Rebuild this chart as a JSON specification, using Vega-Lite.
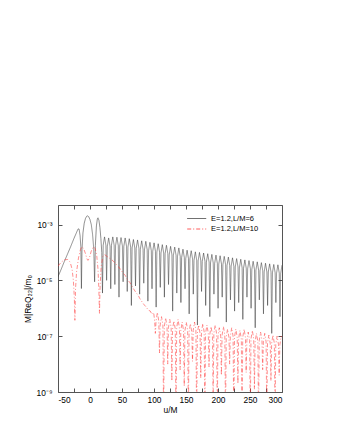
{
"$schema": "https://vega.github.io/schema/vega-lite/v6.json",
"autosize": {"type": "none"},
"width": 224, "height": 187,
"padding": {"left": 58, "top": 205, "right": 60, "bottom": 51},
"config": {"font": "Liberation Sans", "view": {"stroke": "#555", "strokeWidth": 1},
 "axis": {"domain": false, "grid": false, "tickColor": "#555", "tickSize": -4, "labelFontSize": 8.4, "titleFontSize": 8.4, "titleFontWeight": "normal", "labelColor": "#000", "titleColor": "#000", "titlePadding": 2},
 "axisX": {"labelPadding": 7.5},
 "axisY": {"labelPadding": 10, "titlePadding": 4}},
"data": {"values": [
{"s":"E=1.2,L/M=6","u":-50,"v":1.35e-5},{"s":"E=1.2,L/M=6","u":-45,"v":2.5e-5},{"s":"E=1.2,L/M=6","u":-40,"v":4.8e-5},{"s":"E=1.2,L/M=6","u":-35,"v":8.9e-5},{"s":"E=1.2,L/M=6","u":-30,"v":1.66e-4},{"s":"E=1.2,L/M=6","u":-25,"v":3.2e-4},{"s":"E=1.2,L/M=6","u":-22,"v":4.6e-4},{"s":"E=1.2,L/M=6","u":-20,"v":5.9e-4},{"s":"E=1.2,L/M=6","u":-18.5,"v":7.0e-4},{"s":"E=1.2,L/M=6","u":-17,"v":6.8e-4},{"s":"E=1.2,L/M=6","u":-15.5,"v":4.0e-4},{"s":"E=1.2,L/M=6","u":-14.3,"v":1.6e-4},{"s":"E=1.2,L/M=6","u":-13.4,"v":5.1e-6},{"s":"E=1.2,L/M=6","u":-12.5,"v":1.26e-4},{"s":"E=1.2,L/M=6","u":-11,"v":5.0e-4},{"s":"E=1.2,L/M=6","u":-9,"v":1.12e-3},{"s":"E=1.2,L/M=6","u":-7,"v":1.66e-3},{"s":"E=1.2,L/M=6","u":-5,"v":2.0e-3},{"s":"E=1.2,L/M=6","u":-3.8,"v":2.04e-3},{"s":"E=1.2,L/M=6","u":-2,"v":1.9e-3},{"s":"E=1.2,L/M=6","u":0,"v":1.5e-3},{"s":"E=1.2,L/M=6","u":2,"v":1.0e-3},{"s":"E=1.2,L/M=6","u":4,"v":4.5e-4},{"s":"E=1.2,L/M=6","u":5.8,"v":1.4e-4},{"s":"E=1.2,L/M=6","u":7.2,"v":8.9e-6},{"s":"E=1.2,L/M=6","u":8.4,"v":1.8e-4},{"s":"E=1.2,L/M=6","u":10,"v":8.9e-4},{"s":"E=1.2,L/M=6","u":11.5,"v":1.6e-3},{"s":"E=1.2,L/M=6","u":12.5,"v":1.74e-3},{"s":"E=1.2,L/M=6","u":14,"v":1.4e-3},{"s":"E=1.2,L/M=6","u":15.5,"v":7.9e-4},{"s":"E=1.2,L/M=6","u":17,"v":3.2e-4},{"s":"E=1.2,L/M=6","u":18.4,"v":1.0e-4},
{"s":"E=1.2,L/M=6","u":19.5,"v":3.5e-6},{"s":"E=1.2,L/M=6","u":20.6,"v":1.8e-4},{"s":"E=1.2,L/M=6","u":22.7,"v":3.6e-4},{"s":"E=1.2,L/M=6","u":24.85,"v":1.8e-4},
{"s":"E=1.2,L/M=6","u":25.95,"v":1.0e-5},{"s":"E=1.2,L/M=6","u":27.05,"v":1.65e-4},{"s":"E=1.2,L/M=6","u":29.15,"v":3.3e-4},{"s":"E=1.2,L/M=6","u":31.3,"v":1.65e-4},
{"s":"E=1.2,L/M=6","u":32.4,"v":5.0e-6},{"s":"E=1.2,L/M=6","u":33.5,"v":1.8e-4},{"s":"E=1.2,L/M=6","u":35.6,"v":3.6e-4},{"s":"E=1.2,L/M=6","u":37.75,"v":1.8e-4},
{"s":"E=1.2,L/M=6","u":38.85,"v":7.1e-6},{"s":"E=1.2,L/M=6","u":39.95,"v":1.75e-4},{"s":"E=1.2,L/M=6","u":42.05,"v":3.5e-4},{"s":"E=1.2,L/M=6","u":44.2,"v":1.75e-4},
{"s":"E=1.2,L/M=6","u":45.3,"v":2.5e-6},{"s":"E=1.2,L/M=6","u":46.4,"v":1.7e-4},{"s":"E=1.2,L/M=6","u":48.5,"v":3.4e-4},{"s":"E=1.2,L/M=6","u":50.65,"v":1.7e-4},
{"s":"E=1.2,L/M=6","u":51.75,"v":8.9e-6},{"s":"E=1.2,L/M=6","u":52.85,"v":1.65e-4},{"s":"E=1.2,L/M=6","u":54.95,"v":3.3e-4},{"s":"E=1.2,L/M=6","u":57.1,"v":1.65e-4},
{"s":"E=1.2,L/M=6","u":58.2,"v":4.0e-6},{"s":"E=1.2,L/M=6","u":59.3,"v":1.55e-4},{"s":"E=1.2,L/M=6","u":61.4,"v":3.1e-4},{"s":"E=1.2,L/M=6","u":63.55,"v":1.55e-4},
{"s":"E=1.2,L/M=6","u":64.65,"v":1.26e-6},{"s":"E=1.2,L/M=6","u":65.75,"v":1.45e-4},{"s":"E=1.2,L/M=6","u":67.85,"v":2.9e-4},{"s":"E=1.2,L/M=6","u":70.0,"v":1.45e-4},
{"s":"E=1.2,L/M=6","u":71.1,"v":6.3e-6},{"s":"E=1.2,L/M=6","u":72.2,"v":1.4e-4},{"s":"E=1.2,L/M=6","u":74.3,"v":2.8e-4},{"s":"E=1.2,L/M=6","u":76.45,"v":1.4e-4},
{"s":"E=1.2,L/M=6","u":77.55,"v":3.2e-6},{"s":"E=1.2,L/M=6","u":78.65,"v":1.3e-4},{"s":"E=1.2,L/M=6","u":80.75,"v":2.6e-4},{"s":"E=1.2,L/M=6","u":82.9,"v":1.3e-4},
{"s":"E=1.2,L/M=6","u":84.0,"v":7.9e-6},{"s":"E=1.2,L/M=6","u":85.1,"v":1.25e-4},{"s":"E=1.2,L/M=6","u":87.2,"v":2.5e-4},{"s":"E=1.2,L/M=6","u":89.35,"v":1.25e-4},
{"s":"E=1.2,L/M=6","u":90.45,"v":1.8e-6},{"s":"E=1.2,L/M=6","u":91.55,"v":1.15e-4},{"s":"E=1.2,L/M=6","u":93.65,"v":2.3e-4},{"s":"E=1.2,L/M=6","u":95.8,"v":1.15e-4},
{"s":"E=1.2,L/M=6","u":96.9,"v":5.0e-6},{"s":"E=1.2,L/M=6","u":98.0,"v":1.1e-4},{"s":"E=1.2,L/M=6","u":100.1,"v":2.2e-4},{"s":"E=1.2,L/M=6","u":102.25,"v":1.1e-4},
{"s":"E=1.2,L/M=6","u":103.35,"v":1.1e-6},{"s":"E=1.2,L/M=6","u":104.45,"v":1.02e-4},{"s":"E=1.2,L/M=6","u":106.55,"v":2.05e-4},{"s":"E=1.2,L/M=6","u":108.7,"v":1.02e-4},
{"s":"E=1.2,L/M=6","u":109.8,"v":5.6e-6},{"s":"E=1.2,L/M=6","u":110.9,"v":9.5e-5},{"s":"E=1.2,L/M=6","u":113.0,"v":1.9e-4},{"s":"E=1.2,L/M=6","u":115.15,"v":9.5e-5},
{"s":"E=1.2,L/M=6","u":116.25,"v":2.5e-6},{"s":"E=1.2,L/M=6","u":117.35,"v":9.0e-5},{"s":"E=1.2,L/M=6","u":119.45,"v":1.8e-4},{"s":"E=1.2,L/M=6","u":121.6,"v":9.0e-5},
{"s":"E=1.2,L/M=6","u":122.7,"v":7.1e-6},{"s":"E=1.2,L/M=6","u":123.8,"v":8.2e-5},{"s":"E=1.2,L/M=6","u":125.9,"v":1.65e-4},{"s":"E=1.2,L/M=6","u":128.05,"v":8.2e-5},
{"s":"E=1.2,L/M=6","u":129.15,"v":7.9e-7},{"s":"E=1.2,L/M=6","u":130.25,"v":7.8e-5},{"s":"E=1.2,L/M=6","u":132.35,"v":1.55e-4},{"s":"E=1.2,L/M=6","u":134.5,"v":7.8e-5},
{"s":"E=1.2,L/M=6","u":135.6,"v":3.5e-6},{"s":"E=1.2,L/M=6","u":136.7,"v":7.2e-5},{"s":"E=1.2,L/M=6","u":138.8,"v":1.45e-4},{"s":"E=1.2,L/M=6","u":140.95,"v":7.2e-5},
{"s":"E=1.2,L/M=6","u":142.05,"v":1.6e-6},{"s":"E=1.2,L/M=6","u":143.15,"v":6.5e-5},{"s":"E=1.2,L/M=6","u":145.25,"v":1.3e-4},{"s":"E=1.2,L/M=6","u":147.4,"v":6.5e-5},
{"s":"E=1.2,L/M=6","u":148.5,"v":5.0e-6},{"s":"E=1.2,L/M=6","u":149.6,"v":6.0e-5},{"s":"E=1.2,L/M=6","u":151.7,"v":1.2e-4},{"s":"E=1.2,L/M=6","u":153.85,"v":6.0e-5},
{"s":"E=1.2,L/M=6","u":154.95,"v":6.3e-7},{"s":"E=1.2,L/M=6","u":156.05,"v":5.8e-5},{"s":"E=1.2,L/M=6","u":158.15,"v":1.15e-4},{"s":"E=1.2,L/M=6","u":160.3,"v":5.8e-5},
{"s":"E=1.2,L/M=6","u":161.4,"v":3.2e-6},{"s":"E=1.2,L/M=6","u":162.5,"v":5.2e-5},{"s":"E=1.2,L/M=6","u":164.6,"v":1.05e-4},{"s":"E=1.2,L/M=6","u":166.75,"v":5.2e-5},
{"s":"E=1.2,L/M=6","u":167.85,"v":2.5e-7},{"s":"E=1.2,L/M=6","u":168.95,"v":5.0e-5},{"s":"E=1.2,L/M=6","u":171.05,"v":1.0e-4},{"s":"E=1.2,L/M=6","u":173.2,"v":5.0e-5},
{"s":"E=1.2,L/M=6","u":174.3,"v":4.0e-6},{"s":"E=1.2,L/M=6","u":175.4,"v":4.8e-5},{"s":"E=1.2,L/M=6","u":177.5,"v":9.5e-5},{"s":"E=1.2,L/M=6","u":179.65,"v":4.8e-5},
{"s":"E=1.2,L/M=6","u":180.75,"v":1.26e-6},{"s":"E=1.2,L/M=6","u":181.85,"v":4.5e-5},{"s":"E=1.2,L/M=6","u":183.95,"v":9.0e-5},{"s":"E=1.2,L/M=6","u":186.1,"v":4.5e-5},
{"s":"E=1.2,L/M=6","u":187.2,"v":5.0e-7},{"s":"E=1.2,L/M=6","u":188.3,"v":4.2e-5},{"s":"E=1.2,L/M=6","u":190.4,"v":8.5e-5},{"s":"E=1.2,L/M=6","u":192.55,"v":4.2e-5},
{"s":"E=1.2,L/M=6","u":193.65,"v":3.2e-6},{"s":"E=1.2,L/M=6","u":194.75,"v":4.0e-5},{"s":"E=1.2,L/M=6","u":196.85,"v":8.0e-5},{"s":"E=1.2,L/M=6","u":199.0,"v":4.0e-5},
{"s":"E=1.2,L/M=6","u":200.1,"v":1.0e-6},{"s":"E=1.2,L/M=6","u":201.2,"v":3.8e-5},{"s":"E=1.2,L/M=6","u":203.3,"v":7.6e-5},{"s":"E=1.2,L/M=6","u":205.45,"v":3.8e-5},
{"s":"E=1.2,L/M=6","u":206.55,"v":2.5e-6},{"s":"E=1.2,L/M=6","u":207.65,"v":3.6e-5},{"s":"E=1.2,L/M=6","u":209.75,"v":7.2e-5},{"s":"E=1.2,L/M=6","u":211.9,"v":3.6e-5},
{"s":"E=1.2,L/M=6","u":213.0,"v":3.2e-7},{"s":"E=1.2,L/M=6","u":214.1,"v":3.4e-5},{"s":"E=1.2,L/M=6","u":216.2,"v":6.8e-5},{"s":"E=1.2,L/M=6","u":218.35,"v":3.4e-5},
{"s":"E=1.2,L/M=6","u":219.45,"v":2.0e-6},{"s":"E=1.2,L/M=6","u":220.55,"v":3.2e-5},{"s":"E=1.2,L/M=6","u":222.65,"v":6.4e-5},{"s":"E=1.2,L/M=6","u":224.8,"v":3.2e-5},
{"s":"E=1.2,L/M=6","u":225.9,"v":7.9e-7},{"s":"E=1.2,L/M=6","u":227.0,"v":3.0e-5},{"s":"E=1.2,L/M=6","u":229.1,"v":6.0e-5},{"s":"E=1.2,L/M=6","u":231.25,"v":3.0e-5},
{"s":"E=1.2,L/M=6","u":232.35,"v":1.6e-6},{"s":"E=1.2,L/M=6","u":233.45,"v":2.8e-5},{"s":"E=1.2,L/M=6","u":235.55,"v":5.7e-5},{"s":"E=1.2,L/M=6","u":237.7,"v":2.8e-5},
{"s":"E=1.2,L/M=6","u":238.8,"v":4.0e-7},{"s":"E=1.2,L/M=6","u":239.9,"v":2.7e-5},{"s":"E=1.2,L/M=6","u":242.0,"v":5.4e-5},{"s":"E=1.2,L/M=6","u":244.15,"v":2.7e-5},
{"s":"E=1.2,L/M=6","u":245.25,"v":2.5e-6},{"s":"E=1.2,L/M=6","u":246.35,"v":2.6e-5},{"s":"E=1.2,L/M=6","u":248.45,"v":5.1e-5},{"s":"E=1.2,L/M=6","u":250.6,"v":2.6e-5},
{"s":"E=1.2,L/M=6","u":251.7,"v":1.0e-6},{"s":"E=1.2,L/M=6","u":252.8,"v":2.4e-5},{"s":"E=1.2,L/M=6","u":254.9,"v":4.8e-5},{"s":"E=1.2,L/M=6","u":257.05,"v":2.4e-5},
{"s":"E=1.2,L/M=6","u":258.15,"v":2.0e-7},{"s":"E=1.2,L/M=6","u":259.25,"v":2.3e-5},{"s":"E=1.2,L/M=6","u":261.35,"v":4.6e-5},{"s":"E=1.2,L/M=6","u":263.5,"v":2.3e-5},
{"s":"E=1.2,L/M=6","u":264.6,"v":2.0e-6},{"s":"E=1.2,L/M=6","u":265.7,"v":2.2e-5},{"s":"E=1.2,L/M=6","u":267.8,"v":4.3e-5},{"s":"E=1.2,L/M=6","u":269.95,"v":2.2e-5},
{"s":"E=1.2,L/M=6","u":271.05,"v":6.3e-7},{"s":"E=1.2,L/M=6","u":272.15,"v":2.0e-5},{"s":"E=1.2,L/M=6","u":274.25,"v":4.1e-5},{"s":"E=1.2,L/M=6","u":276.4,"v":2.0e-5},
{"s":"E=1.2,L/M=6","u":277.5,"v":1.26e-6},{"s":"E=1.2,L/M=6","u":278.6,"v":2.0e-5},{"s":"E=1.2,L/M=6","u":280.7,"v":3.9e-5},{"s":"E=1.2,L/M=6","u":282.85,"v":2.0e-5},
{"s":"E=1.2,L/M=6","u":283.95,"v":1.26e-7},{"s":"E=1.2,L/M=6","u":285.05,"v":1.85e-5},{"s":"E=1.2,L/M=6","u":287.15,"v":3.7e-5},{"s":"E=1.2,L/M=6","u":289.3,"v":1.85e-5},
{"s":"E=1.2,L/M=6","u":290.4,"v":1.6e-6},{"s":"E=1.2,L/M=6","u":291.5,"v":1.8e-5},{"s":"E=1.2,L/M=6","u":293.6,"v":3.6e-5},{"s":"E=1.2,L/M=6","u":295.75,"v":1.8e-5},
{"s":"E=1.2,L/M=6","u":296.85,"v":5.0e-7},{"s":"E=1.2,L/M=6","u":297.95,"v":1.75e-5},{"s":"E=1.2,L/M=6","u":300,"v":3.5e-5},
{"s":"E=1.2,L/M=10","u":-50,"v":3.2e-5},{"s":"E=1.2,L/M=10","u":-45,"v":4.5e-5},{"s":"E=1.2,L/M=10","u":-40,"v":5.4e-5},{"s":"E=1.2,L/M=10","u":-35,"v":5.6e-5},{"s":"E=1.2,L/M=10","u":-31,"v":4.5e-5},{"s":"E=1.2,L/M=10","u":-28,"v":2.5e-5},{"s":"E=1.2,L/M=10","u":-26,"v":1.0e-5},{"s":"E=1.2,L/M=10","u":-24.5,"v":2.5e-6},{"s":"E=1.2,L/M=10","u":-23.6,"v":3.7e-7},{"s":"E=1.2,L/M=10","u":-22.6,"v":5.0e-6},{"s":"E=1.2,L/M=10","u":-21,"v":2.0e-5},{"s":"E=1.2,L/M=10","u":-18,"v":6.3e-5},{"s":"E=1.2,L/M=10","u":-15,"v":1.26e-4},{"s":"E=1.2,L/M=10","u":-12.7,"v":1.6e-4},{"s":"E=1.2,L/M=10","u":-10,"v":1.4e-4},{"s":"E=1.2,L/M=10","u":-7,"v":8.9e-5},{"s":"E=1.2,L/M=10","u":-4.5,"v":5.6e-5},{"s":"E=1.2,L/M=10","u":-2.9,"v":5.2e-5},{"s":"E=1.2,L/M=10","u":-1,"v":6.3e-5},{"s":"E=1.2,L/M=10","u":2,"v":1.12e-4},{"s":"E=1.2,L/M=10","u":5.5,"v":1.6e-4},{"s":"E=1.2,L/M=10","u":8,"v":1.4e-4},{"s":"E=1.2,L/M=10","u":10.5,"v":7.9e-5},{"s":"E=1.2,L/M=10","u":12.5,"v":2.5e-5},{"s":"E=1.2,L/M=10","u":13.8,"v":5.0e-6},{"s":"E=1.2,L/M=10","u":14.8,"v":6.6e-7},{"s":"E=1.2,L/M=10","u":15.8,"v":6.3e-6},{"s":"E=1.2,L/M=10","u":17.5,"v":3.2e-5},{"s":"E=1.2,L/M=10","u":20,"v":7.1e-5},{"s":"E=1.2,L/M=10","u":23,"v":8.3e-5},{"s":"E=1.2,L/M=10","u":27,"v":7.1e-5},{"s":"E=1.2,L/M=10","u":30,"v":6.3e-5},{"s":"E=1.2,L/M=10","u":33.5,"v":5.6e-5},{"s":"E=1.2,L/M=10","u":36,"v":5.0e-5},{"s":"E=1.2,L/M=10","u":39,"v":4.2e-5},{"s":"E=1.2,L/M=10","u":42,"v":3.5e-5},{"s":"E=1.2,L/M=10","u":45,"v":3.0e-5},{"s":"E=1.2,L/M=10","u":48,"v":2.4e-5},{"s":"E=1.2,L/M=10","u":52,"v":1.8e-5},{"s":"E=1.2,L/M=10","u":55,"v":1.5e-5},{"s":"E=1.2,L/M=10","u":58,"v":1.1e-5},{"s":"E=1.2,L/M=10","u":62,"v":8.5e-6},{"s":"E=1.2,L/M=10","u":65,"v":6.5e-6},{"s":"E=1.2,L/M=10","u":68,"v":5.0e-6},{"s":"E=1.2,L/M=10","u":72,"v":3.6e-6},{"s":"E=1.2,L/M=10","u":75,"v":3.0e-6},{"s":"E=1.2,L/M=10","u":78,"v":2.2e-6},{"s":"E=1.2,L/M=10","u":82,"v":1.6e-6},{"s":"E=1.2,L/M=10","u":85,"v":1.3e-6},{"s":"E=1.2,L/M=10","u":88,"v":1.1e-6},{"s":"E=1.2,L/M=10","u":91,"v":8.5e-7},{"s":"E=1.2,L/M=10","u":94,"v":8.0e-7},{"s":"E=1.2,L/M=10","u":97,"v":6.0e-7},{"s":"E=1.2,L/M=10","u":99.5,"v":7.0e-7},{"s":"E=1.2,L/M=10","u":101,"v":3.5e-7},
{"s":"E=1.2,L/M=10","u":102.1,"v":1.26e-7},{"s":"E=1.2,L/M=10","u":103.2,"v":3.5e-7},{"s":"E=1.2,L/M=10","u":105.3,"v":7.1e-7},{"s":"E=1.2,L/M=10","u":107.45,"v":3.5e-7},
{"s":"E=1.2,L/M=10","u":108.55,"v":2.5e-8},{"s":"E=1.2,L/M=10","u":109.65,"v":2.5e-7},{"s":"E=1.2,L/M=10","u":111.75,"v":5.0e-7},{"s":"E=1.2,L/M=10","u":113.9,"v":2.5e-7},
{"s":"E=1.2,L/M=10","u":115.0,"v":1e-10},{"s":"E=1.2,L/M=10","u":116.1,"v":2.2e-7},{"s":"E=1.2,L/M=10","u":118.2,"v":4.5e-7},{"s":"E=1.2,L/M=10","u":120.35,"v":2.2e-7},
{"s":"E=1.2,L/M=10","u":121.45,"v":1.0e-8},{"s":"E=1.2,L/M=10","u":122.55,"v":2.0e-7},{"s":"E=1.2,L/M=10","u":124.65,"v":4.0e-7},{"s":"E=1.2,L/M=10","u":126.8,"v":2.0e-7},
{"s":"E=1.2,L/M=10","u":127.9,"v":2.5e-9},{"s":"E=1.2,L/M=10","u":129.0,"v":1.8e-7},{"s":"E=1.2,L/M=10","u":131.1,"v":3.5e-7},{"s":"E=1.2,L/M=10","u":133.25,"v":1.8e-7},
{"s":"E=1.2,L/M=10","u":134.35,"v":1e-10},{"s":"E=1.2,L/M=10","u":135.45,"v":2.0e-7},{"s":"E=1.2,L/M=10","u":137.55,"v":4.0e-7},{"s":"E=1.2,L/M=10","u":139.7,"v":2.0e-7},
{"s":"E=1.2,L/M=10","u":140.8,"v":6.3e-9},{"s":"E=1.2,L/M=10","u":141.9,"v":1.6e-7},{"s":"E=1.2,L/M=10","u":144.0,"v":3.2e-7},{"s":"E=1.2,L/M=10","u":146.15,"v":1.6e-7},
{"s":"E=1.2,L/M=10","u":147.25,"v":1.6e-9},{"s":"E=1.2,L/M=10","u":148.35,"v":1.6e-7},{"s":"E=1.2,L/M=10","u":150.45,"v":3.2e-7},{"s":"E=1.2,L/M=10","u":152.6,"v":1.6e-7},
{"s":"E=1.2,L/M=10","u":153.7,"v":1e-10},{"s":"E=1.2,L/M=10","u":154.8,"v":1.4e-7},{"s":"E=1.2,L/M=10","u":156.9,"v":2.8e-7},{"s":"E=1.2,L/M=10","u":159.05,"v":1.4e-7},
{"s":"E=1.2,L/M=10","u":160.15,"v":1.26e-8},{"s":"E=1.2,L/M=10","u":161.25,"v":1.6e-7},{"s":"E=1.2,L/M=10","u":163.35,"v":3.2e-7},{"s":"E=1.2,L/M=10","u":165.5,"v":1.6e-7},
{"s":"E=1.2,L/M=10","u":166.6,"v":1e-10},{"s":"E=1.2,L/M=10","u":167.7,"v":1.25e-7},{"s":"E=1.2,L/M=10","u":169.8,"v":2.5e-7},{"s":"E=1.2,L/M=10","u":171.95,"v":1.25e-7},
{"s":"E=1.2,L/M=10","u":173.05,"v":3.2e-9},{"s":"E=1.2,L/M=10","u":174.15,"v":1.4e-7},{"s":"E=1.2,L/M=10","u":176.25,"v":2.8e-7},{"s":"E=1.2,L/M=10","u":178.4,"v":1.4e-7},
{"s":"E=1.2,L/M=10","u":179.5,"v":1e-10},{"s":"E=1.2,L/M=10","u":180.6,"v":1.25e-7},{"s":"E=1.2,L/M=10","u":182.7,"v":2.5e-7},{"s":"E=1.2,L/M=10","u":184.85,"v":1.25e-7},
{"s":"E=1.2,L/M=10","u":185.95,"v":7.9e-9},{"s":"E=1.2,L/M=10","u":187.05,"v":1.1e-7},{"s":"E=1.2,L/M=10","u":189.15,"v":2.2e-7},{"s":"E=1.2,L/M=10","u":191.3,"v":1.1e-7},
{"s":"E=1.2,L/M=10","u":192.4,"v":5e-10},{"s":"E=1.2,L/M=10","u":193.5,"v":1.25e-7},{"s":"E=1.2,L/M=10","u":195.6,"v":2.5e-7},{"s":"E=1.2,L/M=10","u":197.75,"v":1.25e-7},
{"s":"E=1.2,L/M=10","u":198.85,"v":1e-10},{"s":"E=1.2,L/M=10","u":199.95,"v":1.0e-7},{"s":"E=1.2,L/M=10","u":202.05,"v":2.0e-7},{"s":"E=1.2,L/M=10","u":204.2,"v":1.0e-7},
{"s":"E=1.2,L/M=10","u":205.3,"v":4.0e-9},{"s":"E=1.2,L/M=10","u":206.4,"v":1.1e-7},{"s":"E=1.2,L/M=10","u":208.5,"v":2.2e-7},{"s":"E=1.2,L/M=10","u":210.65,"v":1.1e-7},
{"s":"E=1.2,L/M=10","u":211.75,"v":1e-10},{"s":"E=1.2,L/M=10","u":212.85,"v":9.0e-8},{"s":"E=1.2,L/M=10","u":214.95,"v":1.8e-7},{"s":"E=1.2,L/M=10","u":217.1,"v":9.0e-8},
{"s":"E=1.2,L/M=10","u":218.2,"v":1.0e-8},{"s":"E=1.2,L/M=10","u":219.3,"v":1.0e-7},{"s":"E=1.2,L/M=10","u":221.4,"v":2.0e-7},{"s":"E=1.2,L/M=10","u":223.55,"v":1.0e-7},
{"s":"E=1.2,L/M=10","u":224.65,"v":1e-10},{"s":"E=1.2,L/M=10","u":225.75,"v":9.0e-8},{"s":"E=1.2,L/M=10","u":227.85,"v":1.8e-7},{"s":"E=1.2,L/M=10","u":230.0,"v":9.0e-8},
{"s":"E=1.2,L/M=10","u":231.1,"v":2.0e-9},{"s":"E=1.2,L/M=10","u":232.2,"v":8.0e-8},{"s":"E=1.2,L/M=10","u":234.3,"v":1.6e-7},{"s":"E=1.2,L/M=10","u":236.45,"v":8.0e-8},
{"s":"E=1.2,L/M=10","u":237.55,"v":1e-10},{"s":"E=1.2,L/M=10","u":238.65,"v":9.0e-8},{"s":"E=1.2,L/M=10","u":240.75,"v":1.8e-7},{"s":"E=1.2,L/M=10","u":242.9,"v":9.0e-8},
{"s":"E=1.2,L/M=10","u":244.0,"v":5.0e-9},{"s":"E=1.2,L/M=10","u":245.1,"v":7.0e-8},{"s":"E=1.2,L/M=10","u":247.2,"v":1.4e-7},{"s":"E=1.2,L/M=10","u":249.35,"v":7.0e-8},
{"s":"E=1.2,L/M=10","u":250.45,"v":1e-10},{"s":"E=1.2,L/M=10","u":251.55,"v":8.0e-8},{"s":"E=1.2,L/M=10","u":253.65,"v":1.6e-7},{"s":"E=1.2,L/M=10","u":255.8,"v":8.0e-8},
{"s":"E=1.2,L/M=10","u":256.9,"v":1.26e-9},{"s":"E=1.2,L/M=10","u":258.0,"v":6.3e-8},{"s":"E=1.2,L/M=10","u":260.1,"v":1.26e-7},{"s":"E=1.2,L/M=10","u":262.25,"v":6.3e-8},
{"s":"E=1.2,L/M=10","u":263.35,"v":1e-10},{"s":"E=1.2,L/M=10","u":264.45,"v":7.0e-8},{"s":"E=1.2,L/M=10","u":266.55,"v":1.4e-7},{"s":"E=1.2,L/M=10","u":268.7,"v":7.0e-8},
{"s":"E=1.2,L/M=10","u":269.8,"v":6.3e-9},{"s":"E=1.2,L/M=10","u":270.9,"v":6.3e-8},{"s":"E=1.2,L/M=10","u":273.0,"v":1.26e-7},{"s":"E=1.2,L/M=10","u":275.15,"v":6.3e-8},
{"s":"E=1.2,L/M=10","u":276.25,"v":1e-10},{"s":"E=1.2,L/M=10","u":277.35,"v":5.5e-8},{"s":"E=1.2,L/M=10","u":279.45,"v":1.1e-7},{"s":"E=1.2,L/M=10","u":281.6,"v":5.5e-8},
{"s":"E=1.2,L/M=10","u":282.7,"v":2.5e-9},{"s":"E=1.2,L/M=10","u":283.8,"v":5.5e-8},{"s":"E=1.2,L/M=10","u":285.9,"v":1.1e-7},{"s":"E=1.2,L/M=10","u":288.05,"v":5.5e-8},
{"s":"E=1.2,L/M=10","u":289.15,"v":1e-10},{"s":"E=1.2,L/M=10","u":290.25,"v":5.0e-8},{"s":"E=1.2,L/M=10","u":292.35,"v":1.0e-7},{"s":"E=1.2,L/M=10","u":294.5,"v":5.0e-8},
{"s":"E=1.2,L/M=10","u":295.6,"v":4.0e-9},{"s":"E=1.2,L/M=10","u":296.7,"v":5.0e-8},{"s":"E=1.2,L/M=10","u":298.8,"v":1.0e-7},{"s":"E=1.2,L/M=10","u":300,"v":9.0e-8}
]},
"layer": [
 {"mark": {"type": "line", "clip": true, "strokeWidth": 0.55},
  "encoding": {
   "x": {"field": "u", "type": "quantitative", "scale": {"domain": [-50, 300], "nice": false, "zero": false},
     "axis": {"values": [-50,-25,0,25,50,75,100,125,150,175,200,225,250,275,300], "labelExpr": "datum.value % 50 == 0 ? '' + datum.value : ''", "title": "u/M"}},
   "y": {"field": "v", "type": "quantitative", "scale": {"type": "log", "domain": [1e-9, 0.005], "nice": false},
     "axis": {"values": [1e-9, 1e-7, 1e-5, 1e-3], "labelExpr": "datum.value < 3e-9 ? '10⁻⁹' : datum.value < 3e-7 ? '10⁻⁷' : datum.value < 3e-5 ? '10⁻⁵' : '10⁻³'", "title": "M|ReQ₂₂|/m₀"}},
   "color": {"field": "s", "type": "nominal", "scale": {"domain": ["E=1.2,L/M=6", "E=1.2,L/M=10"], "range": ["#333333", "#ff3333"]},
     "legend": {"orient": "none", "legendX": 134.7, "legendY": 9.5, "title": null, "symbolType": "M-2.714,0H2.714", "symbolSize": 49, "symbolStrokeWidth": 0.8, "labelFontSize": 7.5, "labelOffset": 10.3, "rowPadding": 2.5, "padding": 0}},
   "strokeDash": {"field": "s", "type": "nominal", "scale": {"domain": ["E=1.2,L/M=6", "E=1.2,L/M=10"], "range": [[1, 0], [4, 2, 1, 2]]}}
  }},
 {"mark": {"type": "line", "strokeOpacity": 0},
  "encoding": {
   "x": {"field": "u", "type": "quantitative", "axis": {"orient": "top", "values": [-50,-25,0,25,50,75,100,125,150,175,200,225,250,275,300], "labels": false, "title": null}},
   "y": {"field": "v", "type": "quantitative", "axis": {"orient": "right", "values": [1e-9, 1e-7, 1e-5, 1e-3], "labels": false, "title": null}}
  }}
],
"resolve": {"axis": {"x": "independent", "y": "independent"}}
}
